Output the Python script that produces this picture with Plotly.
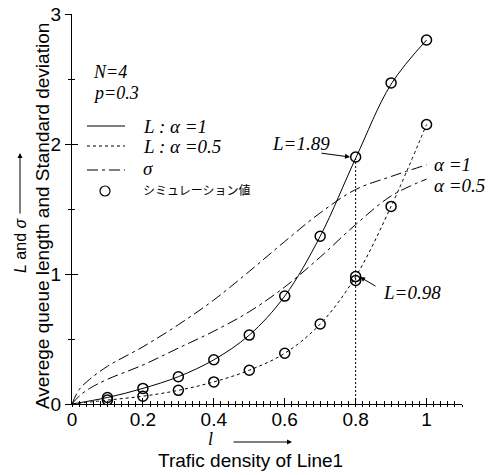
import plotly.graph_objects as go

# ---------------- data ----------------
x_sim = [0.1, 0.2, 0.3, 0.4, 0.5, 0.6, 0.7, 0.8, 0.9, 1.0]
L_a1_sim = [0.05, 0.12, 0.21, 0.34, 0.53, 0.83, 1.29, 1.90, 2.47, 2.80]
L_a05_sim = [0.03, 0.06, 0.105, 0.17, 0.26, 0.39, 0.615, 0.98, 1.52, 2.15]
x_extra = [0.8]
L_a05_extra = [0.95]

x_theory = [0.0, 0.1, 0.2, 0.3, 0.4, 0.5, 0.6, 0.7, 0.8, 0.9, 1.0]
L_a1 = [0.0, 0.05, 0.12, 0.21, 0.34, 0.53, 0.83, 1.29, 1.89, 2.46, 2.80]
L_a05 = [0.0, 0.03, 0.06, 0.105, 0.17, 0.26, 0.39, 0.615, 0.98, 1.52, 2.15]

x_sigma = [0.0, 0.02, 0.05, 0.1, 0.2, 0.3, 0.4, 0.5, 0.6, 0.7, 0.8, 0.9, 1.0]
sigma_a1 = [0.0, 0.11, 0.19, 0.29, 0.44, 0.61, 0.80, 1.02, 1.25, 1.47, 1.65, 1.75, 1.84]
sigma_a05 = [0.0, 0.06, 0.12, 0.19, 0.30, 0.43, 0.56, 0.71, 0.90, 1.13, 1.38, 1.60, 1.73]

x_ticks = [0, 0.2, 0.4, 0.6, 0.8, 1]
x_ticktext = ["0", "0.2", "0.4", "0.6", "0.8", "1"]
y_ticks = [0, 1, 2, 3]
y_ticktext = ["0", "1", "2", "3"]

mark_x = 0.8
mark_L1 = 1.89
mark_L05 = 0.98

# ---------------- layout helpers ----------------
W, H = 496, 475
ML, MR, MT, MB = 72, 34, 14, 71
PW, PH = W - ML - MR, H - MT - MB


def px(xp):
    return (xp - ML) / PW


def py(yp):
    return (H - MB - yp) / PH


SERIF = "Liberation Serif"
SANS = "Liberation Sans"

fig = go.Figure()

fig.add_trace(go.Scatter(x=x_sigma, y=sigma_a1, mode="lines", line_shape="spline",
                         line=dict(color="black", width=1, dash="11px,4px,3px,4px")))
fig.add_trace(go.Scatter(x=x_sigma, y=sigma_a05, mode="lines", line_shape="spline",
                         line=dict(color="black", width=1, dash="11px,4px,3px,4px")))
fig.add_trace(go.Scatter(x=x_theory, y=L_a1, mode="lines", line_shape="spline",
                         line=dict(color="black", width=1)))
fig.add_trace(go.Scatter(x=x_theory, y=L_a05, mode="lines", line_shape="spline",
                         line=dict(color="black", width=1, dash="3px,3px")))
fig.add_trace(go.Scatter(x=[mark_x, mark_x], y=[0, mark_L1], mode="lines",
                         line=dict(color="black", width=1, dash="2px,2px")))
marker = dict(symbol="circle-open", size=10, color="black", line=dict(width=1.5, color="black"))
fig.add_trace(go.Scatter(x=x_sim, y=L_a1_sim, mode="markers", marker=marker))
fig.add_trace(go.Scatter(x=x_sim + x_extra, y=L_a05_sim + L_a05_extra, mode="markers", marker=marker))
# dummy trace for overlay axes
fig.add_trace(go.Scatter(x=[None], y=[None], xaxis="x2", yaxis="y2", mode="markers"))

axis_common = dict(showgrid=False, zeroline=False, color="black", automargin=False)
fig.update_layout(
    template="none",
    width=W, height=H, margin=dict(l=ML, r=MR, t=MT, b=MB, pad=0, autoexpand=False),
    paper_bgcolor="white", plot_bgcolor="white", showlegend=False, hovermode=False,
    xaxis=dict(range=[0, 1.1], tickvals=x_ticks, ticktext=x_ticktext, ticks="outside", ticklen=2,
               tickwidth=1, tickcolor="black", showline=True, linecolor="black", linewidth=1,
               ticklabelstandoff=-4,
               tickfont=dict(family=SANS, size=19, color="black"),
               minor=dict(tickmode="linear", tick0=0, dtick=0.02, ticks="outside", ticklen=2, tickwidth=1,
                          tickcolor="black", showgrid=False),
               **axis_common),
    yaxis=dict(range=[0, 3], tickvals=y_ticks, ticktext=y_ticktext, ticks="outside", ticklen=6,
               tickwidth=1, tickcolor="black", showline=True, linecolor="black", linewidth=1,
               tickfont=dict(family=SANS, size=19, color="black"),
               minor=dict(tickmode="linear", tick0=0, dtick=0.5, ticks="outside", ticklen=3, tickwidth=1,
                          tickcolor="black", showgrid=False),
               **axis_common),
    xaxis2=dict(range=[0, 1.1], overlaying="x", anchor="y2", side="bottom", tickvals=x_ticks,
                ticks="inside", ticklen=6, tickwidth=1, tickcolor="black", showticklabels=False, showline=False,
                minor=dict(tickmode="linear", tick0=0, dtick=0.02, ticks="inside", ticklen=3, tickwidth=1,
                           tickcolor="black", showgrid=False),
                **axis_common),
    yaxis2=dict(range=[0, 3], overlaying="y", anchor="x2", side="left", tickvals=y_ticks,
                ticks="inside", ticklen=6, tickwidth=1, tickcolor="black", showticklabels=False, showline=False,
                minor=dict(tickmode="linear", tick0=0, dtick=0.5, ticks="inside", ticklen=3, tickwidth=1,
                           tickcolor="black", showgrid=False),
                **axis_common),
)

ann = []


def text(xp, yp, s, family=SERIF, size=19, xanchor="left", italic=True, angle=0):
    ann.append(dict(xref="paper", yref="paper", x=px(xp), y=py(yp), text=(f"<i>{s}</i>" if italic else s),
                    showarrow=False, xanchor=xanchor, yanchor="middle", textangle=angle,
                    font=dict(family=family, size=size, color="black")))


def arrow(hx, hy, ax, ay):
    ann.append(dict(xref="paper", yref="paper", x=px(hx), y=py(hy), text="", showarrow=True,
                    ax=ax, ay=ay, arrowhead=2, arrowsize=1, arrowwidth=1, arrowcolor="black"))


# legend block
text(91, 72, "N=4", size=18)
text(91, 93, "p=0.3", size=18)
text(141, 127, "L : α =1")
text(141, 146, "L : α =0.5")
text(141, 168, "σ")
text(141, 190, "シミュレーション値", family="Noto Sans CJK JP", size=12, italic=False)

shapes = []
shapes.append(dict(type="line", xref="paper", yref="paper", x0=px(87), x1=px(125), y0=py(126), y1=py(126),
                   line=dict(color="black", width=1)))
shapes.append(dict(type="line", xref="paper", yref="paper", x0=px(87), x1=px(125), y0=py(146), y1=py(146),
                   line=dict(color="black", width=1, dash="3px,3px")))
shapes.append(dict(type="line", xref="paper", yref="paper", x0=px(87), x1=px(125), y0=py(170), y1=py(170),
                   line=dict(color="black", width=1, dash="11px,4px,3px,4px")))
shapes.append(dict(type="circle", xref="paper", yref="paper", x0=px(100), x1=px(110), y0=py(196), y1=py(186),
                   line=dict(color="black", width=1.2)))

# curve annotations
text(270, 143, f"L={mark_L1}")
arrow(350, 157, -30, -4)
text(381, 292, f"L={mark_L05}")
arrow(360, 277, 17, 10)
text(432, 165, "α =1")
text(432, 185, "α =0.5")

# axis titles
text(250, 461, "Trafic density of Line1", family=SANS, size=19, xanchor="center", italic=False)
text(210, 439, "l", size=18, xanchor="center")
arrow(292, 442, -60, 0)
text(43, 216, "Averege queue length and Standard deviation", family=SANS, size=19, xanchor="center",
     italic=False, angle=-90)
text(20, 245, "<i>L</i> and <i>σ</i>", family=SANS, size=16, xanchor="center", italic=False, angle=-90)
arrow(20, 153, 0, 62)

fig.update_layout(annotations=ann, shapes=shapes)
fig.write_html("out.html", config={"displayModeBar": False, "staticPlot": True},
               post_script="document.body.style.margin='0px';")
